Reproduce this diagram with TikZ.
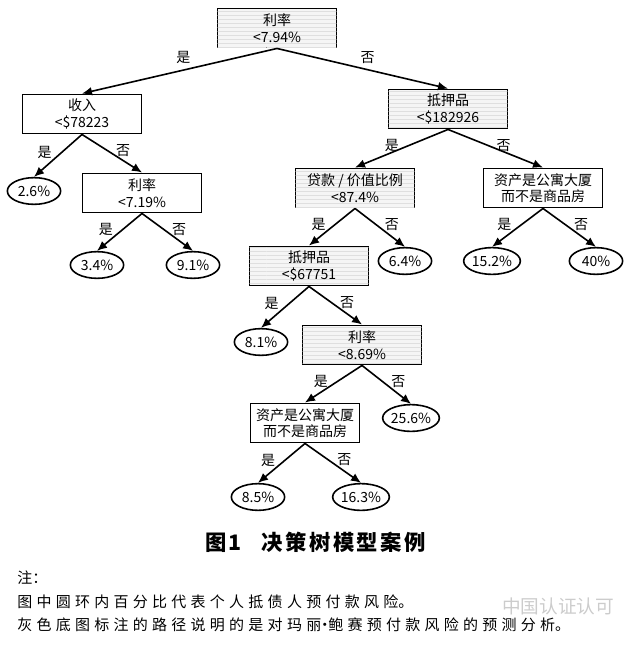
\documentclass[tikz,border=0pt]{standalone}
\usepackage{fontspec}
\setmainfont{Noto Sans CJK SC}
\usetikzlibrary{arrows.meta}
\usetikzlibrary{patterns}
\usetikzlibrary{shapes.geometric}
\newcommand\cjkspread[1]{\XeTeXlinebreaklocale "zh"\XeTeXlinebreakskip=#1\relax}

\tikzset{
  split/.style={draw, line width=1.2pt, inner sep=0pt, minimum width=89pt, minimum height=29.5pt, align=center, font=\fontsize{10.5}{12.5}\selectfont},
  splitgrey/.style={split, fill=gray!8, postaction={pattern=horizontal lines, pattern color=gray!25}},
  leaf/.style={draw, ellipse, line width=1.2pt, inner sep=0pt, minimum width=40pt, minimum height=20pt, font=\fontsize{10.5}{12}\selectfont},
  branch/.style={line width=1.2pt, -{Latex[length=7.5pt,width=6.5pt]}},
  lblroot/.style={above=3pt, inner sep=1pt, font=\fontsize{10.5}{12}\selectfont},
  lblyes/.style={pos=0.42, left=6pt, inner sep=1pt, font=\fontsize{10.5}{12}\selectfont},
  lblno/.style={pos=0.42, right=5pt, inner sep=1pt, font=\fontsize{10.5}{12}\selectfont},
  note/.style={anchor=west, inner sep=0pt, text width=470pt, align=left, font=\fontsize{11.25}{13}\selectfont}
}

\begin{document}
\begin{tikzpicture}[x=0.75pt,y=0.75pt,yscale=-1,xscale=1]
\useasboundingbox (0,0) rectangle (640,648);
% Split nodes
\node [splitgrey] (root) at (277,28) {利率\\<7.94\%};
\node [split] (income) at (82,114) {收入\\<\$78223};
\node [splitgrey] (coll1) at (448,109) {抵押品\\<\$182926};
\node [split] (rate2) at (142,193) {利率\\<7.19\%};
\node [splitgrey] (ltv) at (355,188) {贷款 / 价值比例\\<87.4\%};
\node [split] (apt1) at (543,188) {资产是公寓大厦\\而不是商品房};
\node [splitgrey] (coll2) at (309,266) {抵押品\\<\$67751};
\node [splitgrey] (rate3) at (362,345) {利率\\<8.69\%};
\node [split, minimum width=82pt] (apt2) at (305,423) {资产是公寓大厦\\而不是商品房};
% Leaves
\node [leaf] (l26) at (34,191) {2.6\%};
\node [leaf] (l34) at (97,265) {3.4\%};
\node [leaf] (l91) at (193,265) {9.1\%};
\node [leaf] (l64) at (405,261) {6.4\%};
\node [leaf] (l152) at (492,261) {15.2\%};
\node [leaf] (l40) at (596,261) {40\%};
\node [leaf] (l81) at (261,342) {8.1\%};
\node [leaf] (l256) at (411,418) {25.6\%};
\node [leaf] (l85) at (258,497) {8.5\%};
\node [leaf] (l163) at (361,497) {16.3\%};
% Branches
\draw [branch] (root.south) -- (income.north) node [lblroot, pos=0.48] {是};
\draw [branch] (root.south) -- (coll1.north) node [lblroot, pos=0.53] {否};
\draw [branch] (income.south) -- (l26.north) node [lblyes] {是};
\draw [branch] (income.south) -- (rate2.north) node [lblno] {否};
\draw [branch] (rate2.south) -- (l34.north) node [lblyes] {是};
\draw [branch] (rate2.south) -- (l91.north) node [lblno] {否};
\draw [branch] (coll1.south) -- (ltv.north) node [lblyes] {是};
\draw [branch] (coll1.south) -- (apt1.north) node [lblno] {否};
\draw [branch] (ltv.south) -- (coll2.north) node [lblyes] {是};
\draw [branch] (ltv.south) -- (l64.north) node [lblno] {否};
\draw [branch] (apt1.south) -- (l152.north) node [lblyes] {是};
\draw [branch] (apt1.south) -- (l40.north) node [lblno] {否};
\draw [branch] (coll2.south) -- (l81.north) node [lblyes] {是};
\draw [branch] (coll2.south) -- (rate3.north) node [lblno] {否};
\draw [branch] (rate3.south) -- (apt2.north) node [lblyes] {是};
\draw [branch] (rate3.south) -- (l256.north) node [lblno] {否};
\draw [branch] (apt2.south) -- (l85.north) node [lblyes] {是};
\draw [branch] (apt2.south) -- (l163.north) node [lblno] {否};
% Caption
\node [anchor=west, inner sep=0pt, text width=240pt, align=left, font=\bfseries\fontsize{16}{18}\selectfont] (caption) at (205,542) {\cjkspread{1.8pt}图1\hspace{15pt}决策树模型案例};
% Notes
\node [note] (note1) at (17,578) {\cjkspread{3.2pt}注：};
\node [note] (note2) at (17,602) {\cjkspread{3.2pt}图中圆环内百分比代表个人抵债人预付款风险。};
\node [note] (note3) at (17,625) {\cjkspread{3.2pt}灰色底图标注的路径说明的是对玛丽\kern-3pt·\kern-3pt鲍赛预付款风险的预测分析。};
% Watermark
\node [text=gray!40, inner sep=0pt, font=\fontsize{14}{16}\selectfont] (mark) at (558,606) {中国认证认可};
\end{tikzpicture}
\end{document}
